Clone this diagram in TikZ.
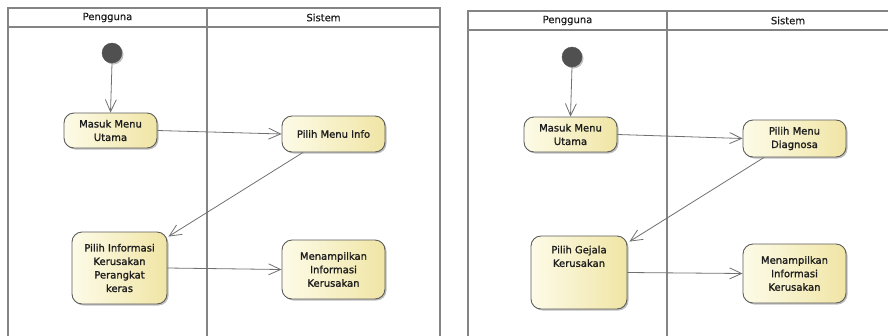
\documentclass[tikz,border=0pt]{standalone}
\usepackage{fontspec}
\setmainfont{DejaVu Sans}
\newfontfamily\actfont[FakeBold=1.4]{DejaVu Sans}
\newfontfamily\titlefont[FakeBold=0.6]{DejaVu Sans}
\usetikzlibrary{arrows.meta,shadows,calc}
\definecolor{laneline}{RGB}{132,132,132}
\definecolor{actborder}{RGB}{92,92,92}
\definecolor{actlight}{RGB}{253,251,232}
\definecolor{actdark}{RGB}{240,229,165}
\definecolor{flowline}{RGB}{112,112,112}
\definecolor{inkdark}{RGB}{30,30,30}
\definecolor{startfill}{RGB}{80,80,80}
\tikzset{
  lane/.style={draw=laneline, line width=1.5pt},
  lanetitle/.style={font=\titlefont\fontsize{10}{12}\selectfont, text=inkdark, anchor=center},
  activity/.style={draw=actborder, line width=0.9pt, rounded corners=10pt,
    left color=actlight, right color=actdark, inner sep=0pt,
    align=center, text=inkdark, font=\actfont\fontsize{10}{13.5}\selectfont,
    drop shadow={shadow xshift=1.5pt, shadow yshift=-1.5pt, opacity=0.25, fill=black}},
  actlabel/.style={align=center, text=inkdark, font=\actfont\fontsize{10}{13.5}\selectfont, inner sep=0pt},
  initial/.style={circle, fill=startfill, draw=startfill, minimum size=20pt, inner sep=0pt,
    drop shadow={shadow xshift=1.5pt, shadow yshift=-1.5pt, opacity=0.25, fill=black}},
  flow/.style={draw=flowline, line width=0.8pt,
    -{Straight Barb[length=12pt, width=11pt, line width=0.8pt]}}
}
\begin{document}
\begin{tikzpicture}[x=1pt, y=-1pt]
\useasboundingbox (0,0) rectangle (888,335);
\clip (0,0) rectangle (888,335);

% ---------- swimlanes: left diagram ----------
\draw[lane] (8,340) -- (8,8) -- (440,8) -- (440,340);
\draw[lane] (8,27) -- (440,27);
\draw[lane] (207,8) -- (207,340);
\node[lanetitle] (laneAuser) at (107.5,17.5) {Pengguna};
\node[lanetitle] (laneAsys) at (323.5,17.5) {Sistem};

% ---------- swimlanes: right diagram ----------
\draw[lane] (468,340) -- (468,11) -- (900,11);
\draw[lane] (468,30) -- (900,30);
\draw[lane] (667,11) -- (667,340);
\node[lanetitle] (laneBuser) at (567.5,20.5) {Pengguna};
\node[lanetitle] (laneBsys) at (788,20.5) {Sistem};

% ---------- activities: left diagram ----------
\node[initial] (a0) at (112,53) {};
\node[activity, minimum width=93pt, minimum height=35pt] (a1) at (110.5,130.5) {Masuk Menu\\Utama};
\node[activity, minimum width=103pt, minimum height=36pt] (a2) at (333.5,134) {Pilih Menu Info};
\node[activity, minimum width=95pt, minimum height=72pt] (a3) at (119.5,268) {Pilih Informasi\\Kerusakan\\Perangkat\\keras};
\node[activity, minimum width=103pt, minimum height=59pt] (a4) at (333.5,269.5) {Menampilkan\\Informasi\\Kerusakan};

\draw[flow] (a0.south) -- (a1.north);
\draw[flow] (a1.east) -- (a2.west);
\draw[flow] ([xshift=-30.5pt]a2.south) -- ([xshift=1pt, yshift=-5pt]a3.north east);
\draw[flow] (a3.east) -- (a4.west);

% ---------- activities: right diagram ----------
\node[initial] (b0) at (572,57) {};
\node[activity, minimum width=93pt, minimum height=35pt] (b1) at (570.5,134.5) {Masuk Menu\\Utama};
\node[activity, minimum width=103pt, minimum height=37pt] (b2) at (794.5,138.5) {Pilih Menu\\Diagnosa};
\node[activity, minimum width=96pt, minimum height=73pt] (b3) at (579,272.5) {};
\node[actlabel, anchor=north] (b3text) at ([yshift=-10pt]b3.north) {Pilih Gejala\\Kerusakan};
\node[activity, minimum width=103pt, minimum height=59pt] (b4) at (794.5,273.5) {Menampilkan\\Informasi\\Kerusakan};

\draw[flow] (b0.south) -- (b1.north);
\draw[flow] (b1.east) -- (b2.west);
\draw[flow] ([xshift=-30.5pt]b2.south) -- ([xshift=2pt, yshift=-6pt]b3.north east);
\draw[flow] (b3.east) -- (b4.west);
\end{tikzpicture}
\end{document}
